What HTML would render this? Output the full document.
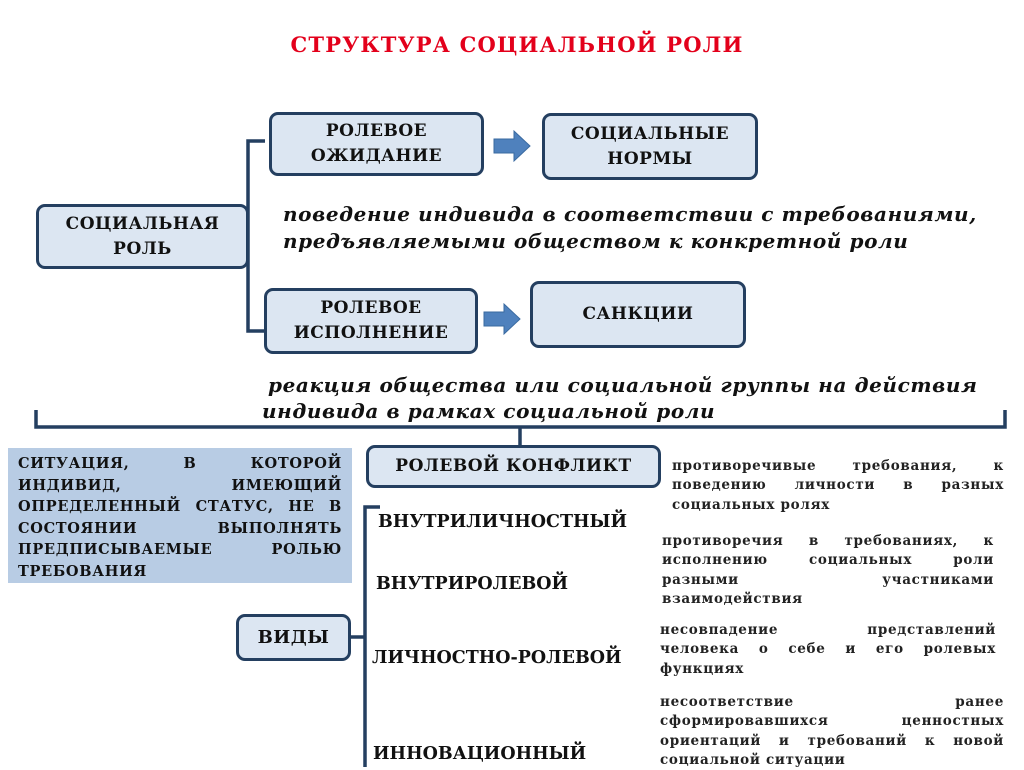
<!DOCTYPE html>
<html><head><meta charset="utf-8"><style>
body{margin:0;width:1024px;height:767px;background:#fff;position:relative;overflow:hidden;font-family:"DejaVu Serif","Liberation Serif",serif;}
.a{position:absolute;}
.box{position:absolute;box-sizing:border-box;background:#dce6f2;border:3px solid #243f60;border-radius:9px;display:flex;align-items:center;justify-content:center;text-align:center;font-weight:bold;font-size:17px;letter-spacing:0.5px;line-height:25px;color:#111;}
.it{position:absolute;font-style:italic;font-weight:bold;font-size:20px;letter-spacing:0.6px;color:#111;white-space:nowrap;}
.j{position:absolute;font-weight:bold;font-size:13.5px;letter-spacing:0.7px;color:#222;}
.j div{height:19.3px;line-height:19.3px;text-align:justify;text-align-last:justify;white-space:nowrap;}
.j div.l{text-align-last:left;}
.lab{position:absolute;font-weight:bold;font-size:17.5px;letter-spacing:0px;color:#111;white-space:nowrap;}
.bl div{height:21.5px;line-height:21.5px;text-align:justify;text-align-last:justify;white-space:nowrap;}
.bl div.l{text-align-last:left;}
</style></head><body>
<div class="a" style="left:0;width:1034px;top:32px;text-align:center;color:#e3001b;font-weight:bold;font-size:21px;letter-spacing:1.2px;">СТРУКТУРА СОЦИАЛЬНОЙ РОЛИ</div>
<svg class="a" style="left:0;top:0" width="1024" height="767">
<g stroke="#243f60" stroke-width="3.5" fill="none">
<path d="M265 141 H248 V331 H265"/>
<path d="M36 410 V427 H1005 V410"/>
<path d="M520 427 V447"/>
<path d="M380 507 H365 V767"/>
<path d="M350 637 H365"/>
</g>
<g fill="#4f81bd" stroke="#3a6aa0" stroke-width="1">
<path d="M494 139 H514 V131 L530 146 L514 161 V153 H494 Z"/>
<path d="M484 312 H504 V304 L520 319 L504 334 V326 H484 Z"/>
</g>
</svg>
<div class="box" style="left:269px;top:112px;width:215px;height:64px;">РОЛЕВОЕ<br>ОЖИДАНИЕ</div>
<div class="box" style="left:542px;top:113px;width:216px;height:67px;">СОЦИАЛЬНЫЕ<br>НОРМЫ</div>
<div class="box" style="left:36px;top:204px;width:213px;height:65px;">СОЦИАЛЬНАЯ<br>РОЛЬ</div>
<div class="box" style="left:264px;top:288px;width:214px;height:66px;">РОЛЕВОЕ<br>ИСПОЛНЕНИЕ</div>
<div class="box" style="left:530px;top:281px;width:216px;height:67px;">САНКЦИИ</div>
<div class="it" style="left:283px;top:202px;">поведение индивида в соответствии с требованиями,</div>
<div class="it" style="left:283px;top:229px;">предъявляемыми обществом к конкретной роли</div>
<div class="it" style="left:268px;top:373px;">реакция общества или социальной группы на действия</div>
<div class="it" style="left:262px;top:399px;">индивида в рамках социальной роли</div>
<div class="a bl" style="left:8px;top:448px;width:344px;height:135px;background:#b8cce4;box-sizing:border-box;padding:5px 10px 0 10px;font-weight:bold;font-size:14.5px;letter-spacing:0.7px;color:#111;">
<div>СИТУАЦИЯ, В КОТОРОЙ</div><div>ИНДИВИД, ИМЕЮЩИЙ</div><div>ОПРЕДЕЛЕННЫЙ СТАТУС, НЕ В</div><div>СОСТОЯНИИ ВЫПОЛНЯТЬ</div><div>ПРЕДПИСЫВАЕМЫЕ РОЛЬЮ</div><div class="l">ТРЕБОВАНИЯ</div></div>
<div class="box" style="left:366px;top:445px;width:295px;height:43px;font-size:17px;">РОЛЕВОЙ КОНФЛИКТ</div>
<div class="box" style="left:236px;top:614px;width:115px;height:47px;font-size:18px;">ВИДЫ</div>
<div class="lab" style="left:378px;top:512px;">ВНУТРИЛИЧНОСТНЫЙ</div>
<div class="lab" style="left:376px;top:574px;">ВНУТРИРОЛЕВОЙ</div>
<div class="lab" style="left:372px;top:648px;">ЛИЧНОСТНО-РОЛЕВОЙ</div>
<div class="lab" style="left:373px;top:744px;">ИННОВАЦИОННЫЙ</div>
<div class="j" style="left:672px;top:457px;width:332px;"><div>противоречивые требования, к</div><div>поведению личности в разных</div><div class="l">социальных ролях</div></div>
<div class="j" style="left:662px;top:532px;width:332px;"><div>противоречия в требованиях, к</div><div>исполнению социальных роли</div><div>разными участниками</div><div class="l">взаимодействия</div></div>
<div class="j" style="left:660px;top:621px;width:336px;"><div>несовпадение представлений</div><div>человека о себе и его ролевых</div><div class="l">функциях</div></div>
<div class="j" style="left:660px;top:693px;width:344px;"><div>несоответствие ранее</div><div>сформировавшихся ценностных</div><div>ориентаций и требований к новой</div><div class="l">социальной ситуации</div></div>
</body></html>
